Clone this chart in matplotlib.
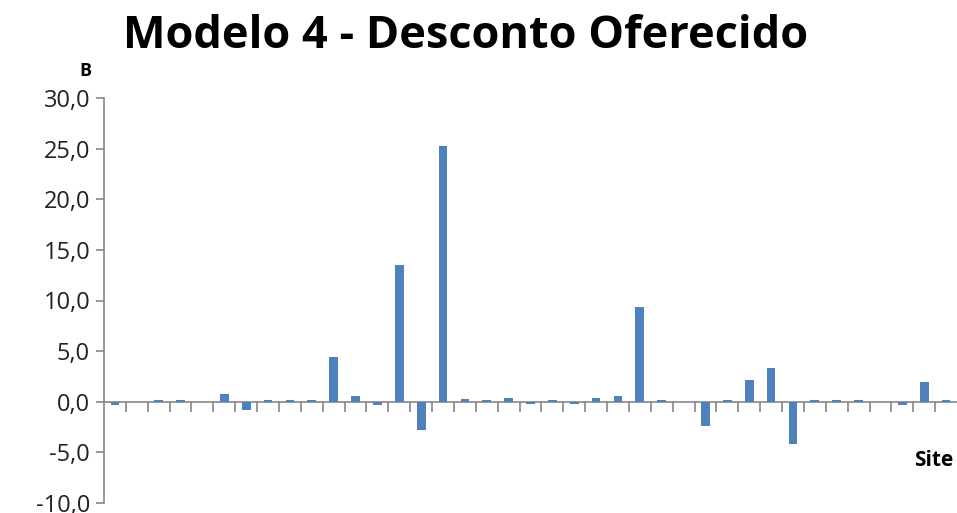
import matplotlib
matplotlib.use("Agg")
import matplotlib.pyplot as plt
import numpy as np
from matplotlib.ticker import FuncFormatter, FixedLocator

title = "Modelo 4 - Desconto Oferecido"
y_label = "B"
x_label = "Site"
sites = list(range(1, 40))
values = [-0.35, 0.0, 0.2, 0.2, 0.0, 0.8, -0.8, 0.2, 0.2, 0.2,
          4.4, 0.6, -0.3, 13.5, -2.8, 25.3, 0.3, 0.2, 0.4, -0.2,
          0.2, -0.2, 0.4, 0.6, 9.4, 0.2, 0.0, -2.4, 0.2, 2.1,
          3.3, -4.2, 0.2, 0.2, 0.2, 0.0, -0.35, 2.0, 0.2]
y_ticks = [-10, -5, 0, 5, 10, 15, 20, 25, 30]

bar_color = "#4F81BD"
axis_color = "#868686"
font = ["Open Sans", "DejaVu Sans"]

fig = plt.figure(figsize=(9.57, 5.13), dpi=100)
ax = fig.add_axes([104/957, 10/513, 1 - 104/957, 405/513])

x = np.arange(len(sites))
ax.bar(x, values, width=0.4, color=bar_color, zorder=3)
ax.set_xlim(-0.5, len(sites) - 0.5)
ax.set_ylim(-10, 30)

ax.spines['top'].set_visible(False)
ax.spines['right'].set_visible(False)
ax.spines['left'].set_color(axis_color)
ax.spines['bottom'].set_color(axis_color)
ax.spines['left'].set_linewidth(1.2)
ax.spines['bottom'].set_linewidth(1.2)
ax.spines['bottom'].set_position(('data', 0))

ax.yaxis.set_major_locator(FixedLocator(y_ticks))
ax.yaxis.set_major_formatter(FuncFormatter(lambda v, p: f"{v:.1f}".replace(".", ",")))
ax.tick_params(axis='y', direction='out', length=6, width=1.2, color=axis_color,
               labelsize=17, labelcolor="#222222", pad=4)
for lab in ax.get_yticklabels():
    lab.set_family(font)

ax.set_xticks(np.arange(0.5, len(sites) - 0.5, 1.0))
ax.set_xticklabels([])
ax.tick_params(axis='x', direction='out', length=7.5, width=1.2, color=axis_color)

fig.text(466/957, 1 - 37/513, title, ha='center', va='center', fontsize=32.5,
         fontweight='bold', family=font, color="#000000")
fig.text(85.5/957, 1 - 71/513, y_label, ha='center', va='center', fontsize=13,
         fontweight='bold', family=font)
fig.text(934/957, 1 - 460/513, x_label, ha='center', va='center', fontsize=15,
         fontweight='bold', family=font)

fig.savefig("out.png", dpi=100)
